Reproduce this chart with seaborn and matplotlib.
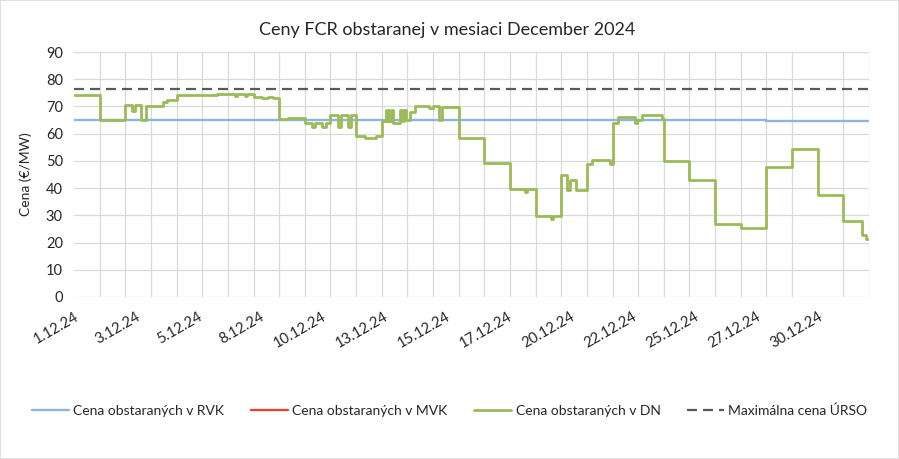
import pandas as pd
import numpy as np
import matplotlib
matplotlib.use('Agg')
import matplotlib.pyplot as plt
import matplotlib.dates as mdates
from matplotlib.lines import Line2D
from matplotlib.patches import Rectangle
import seaborn as sns

start = pd.Timestamp('2024-12-01 00:00')

# cena v DN - zmeny ceny (hodina od zaciatku mesiaca)
dn_hours = [0, 24, 48, 54, 57, 63, 67, 83, 87, 96, 134, 151, 153, 160, 162, 168, 176, 182, 186,
            192, 200, 216, 223, 226, 232, 236, 240, 247, 250, 256, 259, 264, 272, 283,
            288, 292, 293, 295, 296, 298, 299, 305, 307, 309, 311, 314, 319, 332, 336, 342, 344,
            360, 384, 408, 422, 424, 432, 446, 448, 456, 461, 464, 470, 480, 485, 502,
            504, 509, 525, 527, 532, 550, 552, 576, 600, 624, 648, 672, 696, 720, 737, 741, 744]
dn_values = [74.3, 65.0, 70.6, 68.5, 70.6, 65.0, 70.0, 71.8, 72.2, 74.3, 74.7, 74.0, 74.7, 74.0, 74.7,
             73.4, 73.0, 73.3, 73.0,
             65.4, 65.9, 63.8, 62.3, 63.8, 62.3, 63.8, 66.8, 62.3, 66.8, 62.3, 66.8, 59.0, 58.5, 59.0,
             64.5, 68.8, 64.5, 68.8, 64.5, 68.8, 64.0, 68.6, 64.5, 68.6, 65.0, 68.1, 70.0, 69.4, 70.0,
             65.0, 69.8,
             58.3, 49.1, 39.6, 38.5, 39.6, 29.8, 28.5, 29.8, 44.9, 39.3, 43.0, 39.3, 48.9, 50.4, 48.9,
             63.8, 66.3, 63.8, 65.0, 66.9, 65.5, 50.0, 43.0, 26.7, 25.5, 47.9, 54.4, 37.3, 28.1,
             22.8, 21.3, 21.3]

rvk_hours = [0, 648, 744]
rvk_values = [65.0, 64.7, 64.7]

mvk_hours = []
mvk_values = []

max_hours = [0, 744]
max_values = [76.3, 76.3]

tick_labels = ['1.12.24', '3.12.24', '5.12.24', '8.12.24', '10.12.24', '13.12.24', '15.12.24',
               '17.12.24', '20.12.24', '22.12.24', '25.12.24', '27.12.24', '30.12.24']

labels = ['Cena obstaraných v RVK', 'Cena obstaraných v MVK', 'Cena obstaraných v DN',
          'Maximálna cena ÚRSO']
colors = ['#8DB4E2', '#E0463F', '#9BBB59', '#595959']


def to_time(hours):
    return start + pd.to_timedelta(hours, unit='h')


sns.set_theme(style='white')
plt.rcParams['font.family'] = ['Lato', 'DejaVu Sans']

fig = plt.figure(figsize=(8.99, 4.59), dpi=100)
ax = fig.add_axes([74 / 899, 1 - 297 / 459, 795 / 899, 245 / 459])

sns.lineplot(x=to_time(rvk_hours), y=rvk_values, ax=ax, color=colors[0], linewidth=1.7,
             drawstyle='steps-post')
if len(mvk_values):
    sns.lineplot(x=to_time(mvk_hours), y=mvk_values, ax=ax, color=colors[1], linewidth=1.7,
                 drawstyle='steps-post')
sns.lineplot(x=to_time(dn_hours), y=dn_values, ax=ax, color=colors[2], linewidth=2.0,
             drawstyle='steps-post')
sns.lineplot(x=to_time(max_hours), y=max_values, ax=ax, color=colors[3], linewidth=1.6,
             linestyle=(0, (4.5, 2.7)))

ax.set_xlim(start, start + pd.Timedelta(hours=744))
ax.set_ylim(0, 90)
ax.set_yticks(range(0, 91, 10))
ax.set_xticks(pd.date_range(start, periods=len(tick_labels), freq='58h'))
ax.set_xticklabels(tick_labels, rotation=30, ha='right', rotation_mode='anchor')
ax.xaxis.set_minor_locator(mdates.DayLocator())
ax.grid(which='minor', axis='x', color='#D9D9D9', linewidth=0.9)
ax.grid(which='major', axis='y', color='#D9D9D9', linewidth=0.9)
ax.grid(which='major', axis='x', visible=False)
ax.tick_params(axis='both', which='both', length=0, labelsize=10.5, colors='#262626')
ax.tick_params(axis='x', pad=9)
ax.tick_params(axis='y', pad=8)
for s in ax.spines.values():
    s.set_visible(False)
ax.set_axisbelow(True)

ax.set_xlabel('')
ax.set_ylabel('Cena (€/MW)', fontsize=10, color='#262626', labelpad=10)

fig.text(0.497, 1 - 30 / 459, 'Ceny FCR obstaranej v mesiaci December 2024', ha='center',
         va='center', fontsize=13, color='#262626')

handles = [Line2D([], [], color=colors[0], linewidth=1.7),
           Line2D([], [], color=colors[1], linewidth=1.7),
           Line2D([], [], color=colors[2], linewidth=2.0),
           Line2D([], [], color=colors[3], linewidth=1.6, linestyle=(0, (4.5, 2.7)))]
fig.legend(handles, labels, loc='center', bbox_to_anchor=(0.5, 1 - 411 / 459), ncol=4,
           frameon=False, fontsize=10, handlelength=2.7, handletextpad=0.3, columnspacing=1.9,
           labelcolor='#262626')

fig.patches.append(Rectangle((0, 0), 1, 1, transform=fig.transFigure, fill=False,
                             edgecolor='#D9D9D9', linewidth=1.2))

fig.savefig('out.png', dpi=100)
